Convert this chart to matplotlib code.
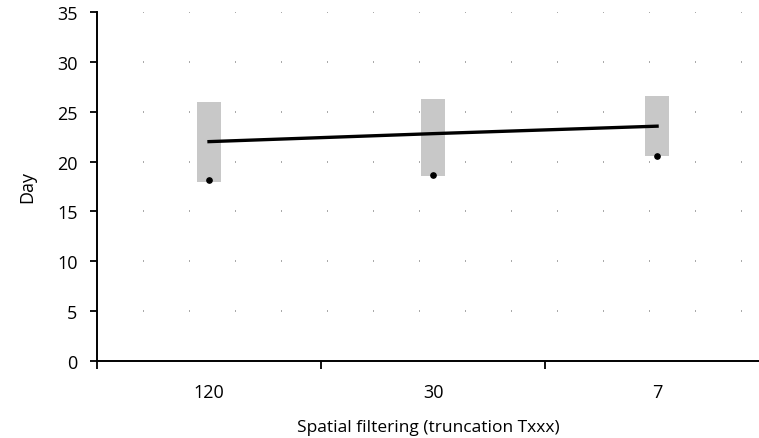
import matplotlib.pyplot as plt

categories = ["120", "30", "7"]
range_low = [17.95, 18.6, 20.6]
range_high = [26.0, 26.3, 26.6]
means = [22.0, 22.8, 23.55]
points = [18.15, 18.65, 20.6]
yticks = [0, 5, 10, 15, 20, 25, 30, 35]

plt.rcParams['font.family'] = ['Open Sans', 'DejaVu Sans']

fig = plt.figure(figsize=(7.59, 4.39), dpi=100)
ax = fig.add_axes([0.1278, 0.1754, 0.8722, 0.795])

x = list(range(len(categories)))
heights = [h - l for h, l in zip(range_high, range_low)]

# dotted horizontal guides
for y in yticks[1:]:
    ax.axhline(y, color='#9a9a9a', lw=1.2, linestyle=(0, (0.6, 27)), zorder=0)

ax.bar(x, heights, bottom=range_low, width=0.107, color='#c8c8c8', zorder=2)
ax.plot(x, means, color='black', lw=2.4, zorder=3)
ax.plot(x, points, 'o', color='black', ms=3.8, zorder=4)

ax.set_yticks(yticks)
ax.set_xticks([-0.5, 0.5, 1.5, 2.5])
ax.set_xticklabels([])
ax.set_xticks(x, minor=True)
ax.set_xticklabels(categories, minor=True)
ax.set_ylim(0, 35)
ax.set_xlim(-0.5, 2.455)

ax.tick_params(axis='y', direction='out', length=5, width=1.3, labelsize=13, pad=9)
ax.tick_params(axis='x', which='major', direction='out', length=6, width=1.3)
ax.tick_params(axis='x', which='minor', length=0, labelsize=13, pad=16)

for s in ['top', 'right']:
    ax.spines[s].set_visible(False)
for s in ['left', 'bottom']:
    ax.spines[s].set_linewidth(1.4)

ax.set_ylabel('Day', fontsize=13, labelpad=15)
ax.set_xlabel('Spatial filtering (truncation Txxx)', fontsize=12.5, labelpad=12.5)

fig.savefig('out.png', dpi=100)
